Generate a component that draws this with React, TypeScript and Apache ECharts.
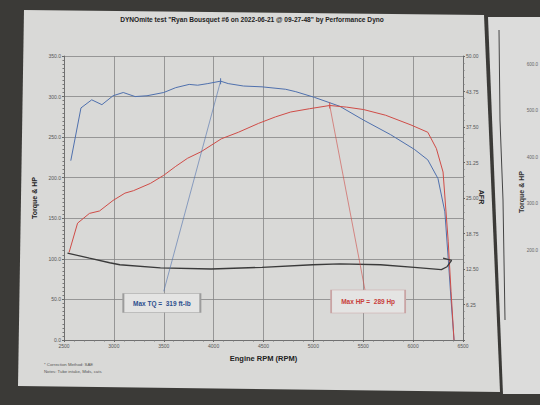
import React, { useEffect, useRef } from "react";
import * as echarts from "echarts";

const titleText = 'DYNOmite test "Ryan Bousquet #6 on 2022-06-21 @ 09-27-48" by Performance Dyno';
const noteLines = ["* Correction Method: SAE", "Notes: Tube intake, Mids, cats"];
const secondSheetLabels = ["600.0", "500.0", "400.0", "300.0", "200.0"];

const tqRpm = [2568, 2670, 2778, 2880, 2992, 3094, 3213, 3332, 3500, 3620, 3755, 3840, 3942, 4070, 4146, 4299, 4485, 4722, 4824, 5011, 5265, 5503, 5775, 6012, 6147, 6249, 6318, 6352, 6380, 6410];
const tqVal = [221, 286, 296, 290, 301, 305, 300, 301, 305, 311, 315, 314, 316, 319, 316, 313, 312, 309, 306, 299, 288, 271, 253, 235, 222, 199, 158, 100, 50, 0];

const hpRpm = [2551, 2636, 2755, 2856, 2992, 3111, 3196, 3366, 3500, 3620, 3739, 3874, 4078, 4248, 4451, 4621, 4773, 4960, 5164, 5333, 5503, 5724, 5979, 6147, 6233, 6300, 6352, 6380, 6410];
const hpVal = [108, 144, 156, 159, 172, 181, 184, 193, 203, 214, 224, 232, 248, 256, 267, 275, 281, 285, 289, 287, 284, 277, 265, 256, 236, 207, 121, 60, 0];

const afrRpm = [2535, 2755, 2958, 3060, 3467, 3975, 4485, 4993, 5265, 5673, 6012, 6283, 6340, 6386, 6300];
const afrVal = [15.3, 14.4, 13.6, 13.25, 12.7, 12.5, 12.8, 13.25, 13.4, 13.25, 12.8, 12.4, 12.9, 14.0, 14.4];

const maxTq = { rpm: 4070, value: 319, label: "Max TQ =  319 ft-lb" };
const maxHp = { rpm: 5164, value: 289, label: "Max HP =  289 Hp" };
// annotation box anchors (data coords)
const tqBox = [3481, 45.5];
const tqLeaderEnd = [3500, 60];
const hpBox = [5549, 47.5];
const hpLeaderEnd = [5520, 60];

const xTicks = { min: 2500, max: 6500, interval: 500 };
const leftTicks = { min: 0, max: 350, interval: 50 };
const rightTicks = { min: 0, max: 50, interval: 6.25 };

const BLUE = "#4f70ad";
const RED = "#cf4c47";
const DARK = "#3a3a3a";

function pairs(xs: number[], ys: number[]) {
  return xs.map((x, i) => [x, ys[i]]);
}

export default function App() {
  const ref = useRef<HTMLDivElement>(null);
  useEffect(() => {
    if (!ref.current) return;
    const chart = echarts.init(ref.current, null, { renderer: "svg" });
    const font = "Liberation Sans, Arial, sans-serif";
    const axisLabel = { fontSize: 5, color: "#555", fontFamily: font };
    const sheetTexts = secondSheetLabels.map((t, i) => ({
      type: "text",
      x: 538,
      y: 64 + i * 46.5,
      silent: true,
      style: { text: t, fontSize: 4.5, fill: "#666", align: "right", verticalAlign: "middle", fontFamily: font },
    }));
    chart.setOption({
      animation: false,
      backgroundColor: "#3b3a37",
      textStyle: { fontFamily: font },
      graphic: [
        { type: "polygon", z: -100, silent: true, shape: { points: [[488, 17], [540, 17], [540, 394], [503, 394]] }, style: { fill: "#dcdcdb" } },
        { type: "polygon", z: -99, silent: true, shape: { points: [[24, 10], [484, 15], [500, 392], [18, 386]] }, style: { fill: "#d9d9d7" } },
        { type: "polyline", z: -98, silent: true, shape: { points: [[499, 30], [500, 120], [503, 200], [505, 320]] }, style: { stroke: "#444", lineWidth: 1, fill: null } },
        ...sheetTexts,
        { type: "text", x: 521, y: 192, rotation: Math.PI / 2, silent: true, style: { text: "Torque & HP", fontSize: 7, fontWeight: "bold", fill: "#333", align: "center", verticalAlign: "middle", fontFamily: font } },
        { type: "text", x: 481, y: 197, rotation: -Math.PI / 2, silent: true, style: { text: "AFR", fontSize: 7, fontWeight: "bold", fill: "#222", align: "center", verticalAlign: "middle", fontFamily: font } },
        { type: "text", x: 252, y: 19, silent: true, style: { text: titleText, fontSize: 6.6, fontWeight: "bold", fill: "#222", align: "center", verticalAlign: "middle", fontFamily: font } },
        { type: "text", x: 44, y: 364, silent: true, style: { text: noteLines[0], fontSize: 4.3, fill: "#555", verticalAlign: "middle", fontFamily: font } },
        { type: "text", x: 44, y: 371, silent: true, style: { text: noteLines[1], fontSize: 4.3, fill: "#555", verticalAlign: "middle", fontFamily: font } },
      ],
      grid: { left: 64, right: 77, top: 56, bottom: 65, containLabel: false },
      xAxis: {
        type: "value",
        ...xTicks,
        name: "Engine RPM (RPM)",
        nameLocation: "middle",
        nameGap: 14,
        nameTextStyle: { fontSize: 7.5, fontWeight: "bold", color: "#222" },
        axisLine: { show: true, lineStyle: { color: "#666", width: 0.8 } },
        axisTick: { show: true, length: 2, lineStyle: { color: "#666" } },
        minorTick: { show: true, splitNumber: 5, length: 1.5, lineStyle: { color: "#777" } },
        axisLabel: { ...axisLabel, margin: 3, formatter: (v: number) => String(v) },
        splitLine: { show: true, lineStyle: { color: "#858585", width: 0.8 } },
      },
      yAxis: [
        {
          type: "value",
          ...leftTicks,
          name: "Torque & HP",
          nameLocation: "middle",
          nameGap: 21,
          nameRotate: 90,
          nameTextStyle: { fontSize: 7, fontWeight: "bold", color: "#222" },
          axisLine: { show: true, lineStyle: { color: "#666", width: 0.8 } },
          axisTick: { show: true, length: 2, lineStyle: { color: "#666" } },
          minorTick: { show: true, splitNumber: 10, length: 1.5, lineStyle: { color: "#777" } },
          axisLabel: { ...axisLabel, margin: 3, formatter: (v: number) => v.toFixed(1) },
          splitLine: { show: true, lineStyle: { color: "#858585", width: 0.8 } },
        },
        {
          type: "value",
          ...rightTicks,
          position: "right",
          axisLine: { show: true, lineStyle: { color: "#666", width: 0.8 } },
          axisTick: { show: true, length: 2, lineStyle: { color: "#666" } },
          minorTick: { show: true, splitNumber: 5, length: 1.5, lineStyle: { color: "#777" } },
          axisLabel: { ...axisLabel, margin: 3, formatter: (v: number) => (v === 0 ? "" : v.toFixed(2)) },
          splitLine: { show: false },
        },
      ],
      series: [
        {
          name: "Torque",
          type: "line",
          yAxisIndex: 0,
          data: pairs(tqRpm, tqVal),
          showSymbol: false,
          lineStyle: { color: BLUE, width: 1 },
          z: 3,
          markLine: {
            silent: true,
            symbol: "none",
            label: { show: false },
            lineStyle: { color: BLUE, width: 0.6, type: "solid" },
            data: [[{ coord: [maxTq.rpm, maxTq.value] }, { coord: tqLeaderEnd }]],
          },
          markPoint: {
            silent: true,
            data: [
              {
                coord: tqBox,
                symbol: "rect",
                symbolSize: [77, 19],
                itemStyle: { color: "#e4e4e3", borderColor: "#9c9c9c", borderWidth: 1 },
                label: { show: true, position: "inside", formatter: maxTq.label, color: "#2d4f8e", fontSize: 6.5, fontWeight: "bold" },
              },
              {
                coord: [maxTq.rpm, maxTq.value],
                symbol: "rect",
                symbolSize: [1, 6],
                itemStyle: { color: BLUE },
                label: { show: false },
              },
            ],
          },
        },
        {
          name: "HP",
          type: "line",
          yAxisIndex: 0,
          data: pairs(hpRpm, hpVal),
          showSymbol: false,
          lineStyle: { color: RED, width: 1 },
          z: 3,
          markLine: {
            silent: true,
            symbol: "none",
            label: { show: false },
            lineStyle: { color: RED, width: 0.6, type: "solid" },
            data: [[{ coord: [maxHp.rpm, maxHp.value] }, { coord: hpLeaderEnd }]],
          },
          markPoint: {
            silent: true,
            data: [
              {
                coord: hpBox,
                symbol: "rect",
                symbolSize: [74, 23],
                itemStyle: { color: "#e4e4e3", borderColor: "#c9a4a4", borderWidth: 1 },
                label: { show: true, position: "inside", formatter: maxHp.label, color: "#c8403b", fontSize: 6.5, fontWeight: "bold" },
              },
              {
                coord: [maxHp.rpm, maxHp.value],
                symbol: "rect",
                symbolSize: [1, 6],
                itemStyle: { color: RED },
                label: { show: false },
              },
            ],
          },
        },
        {
          name: "AFR",
          type: "line",
          yAxisIndex: 1,
          data: pairs(afrRpm, afrVal),
          showSymbol: false,
          lineStyle: { color: DARK, width: 1.3 },
          z: 3,
        },
      ],
    });
    return () => chart.dispose();
  }, []);
  return <div ref={ref} style={{ position: "fixed", left: 0, top: 0, width: 540, height: 405 }} />;
}
